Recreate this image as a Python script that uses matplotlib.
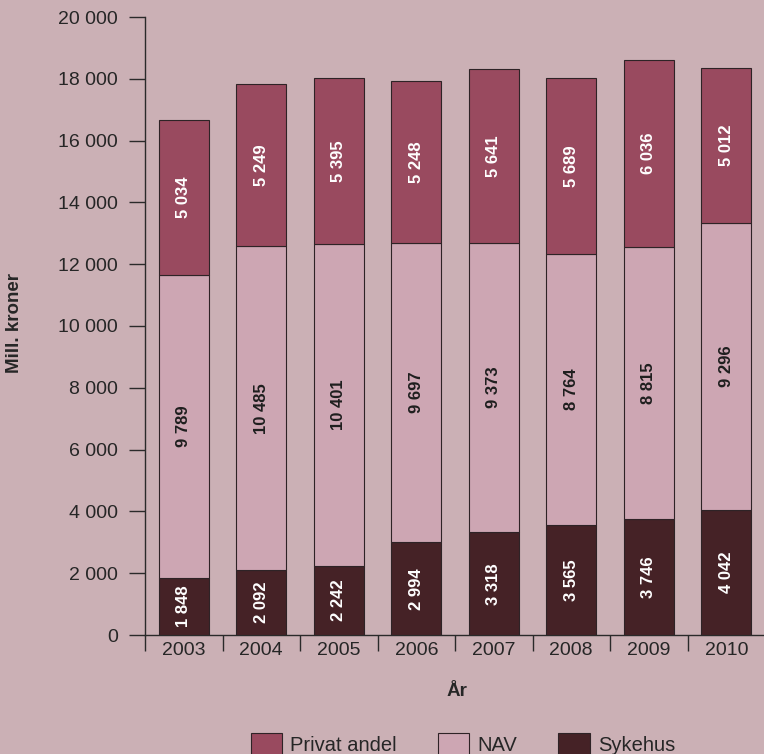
import matplotlib
matplotlib.use("Agg")
import matplotlib.pyplot as plt
from matplotlib.patches import Patch
import numpy as np

# Data (Mill. kroner)
years = ["2003", "2004", "2005", "2006", "2007", "2008", "2009", "2010"]
sykehus = [1848, 2092, 2242, 2994, 3318, 3565, 3746, 4042]
nav = [9789, 10485, 10401, 9697, 9373, 8764, 8815, 9296]
privat = [5034, 5249, 5395, 5248, 5641, 5689, 6036, 5012]

BG = "#cbb0b5"
C_PRIVAT = "#994a5f"
C_NAV = "#cda6b3"
C_SYKEHUS = "#452226"
EDGE = "#2e2326"
TXT = "#262626"

plt.rcParams["font.family"] = ["Liberation Sans", "DejaVu Sans"]


def fmt(v):
    return f"{int(v):,}".replace(",", " ")


fig = plt.figure(figsize=(7.64, 7.54), dpi=100, facecolor=BG)
ax = fig.add_axes([145 / 764, 1 - 635 / 754, 620 / 764, 618 / 754])
ax.set_facecolor(BG)

x = np.arange(len(years))
w = 0.64
sy = np.array(sykehus)
nv = np.array(nav)
pr = np.array(privat)

ax.bar(x, sy, w, color=C_SYKEHUS, edgecolor=EDGE, linewidth=0.8, zorder=3)
ax.bar(x, nv, w, bottom=sy, color=C_NAV, edgecolor=EDGE, linewidth=0.8, zorder=3)
ax.bar(x, pr, w, bottom=sy + nv, color=C_PRIVAT, edgecolor=EDGE, linewidth=0.8, zorder=3)

# value labels, rotated, centred in each segment (dark text on the light NAV part)
for i in range(len(years)):
    segs = ((0, sy[i], "white"), (sy[i], nv[i], "#1e1e1e"), (sy[i] + nv[i], pr[i], "white"))
    for bottom, val, col in segs:
        ax.text(x[i], bottom + val / 2, fmt(val), rotation=90, ha="center", va="center",
                color=col, fontsize=12, fontweight="bold", zorder=4)

ax.set_xlim(-0.5, len(years) - 0.5)
ax.set_ylim(0, 20000)
ax.set_yticks(np.arange(0, 20001, 2000))
ax.set_yticklabels([fmt(v) for v in np.arange(0, 20001, 2000)])
ax.set_xticks(x)
ax.set_xticklabels(years)
ax.set_xticks(np.arange(-0.5, len(years)), minor=True)

ax.tick_params(axis="y", length=11.5, width=1, color="#2a2a2a", pad=8,
               labelsize=14, labelcolor=TXT)
ax.tick_params(axis="x", which="major", length=0, pad=5, labelsize=14, labelcolor=TXT)
ax.tick_params(axis="x", which="minor", length=11.5, width=1, color="#2a2a2a")

for side in ("top", "right"):
    ax.spines[side].set_visible(False)
for side in ("left", "bottom"):
    ax.spines[side].set_color("#2a2a2a")
    ax.spines[side].set_linewidth(1)

fig.text(15 / 764, 1 - 323 / 754, "Mill. kroner", rotation=90, ha="center", va="center",
         fontsize=13.5, fontweight="bold", color=TXT)
fig.text(457 / 764, 1 - 692 / 754, "År", ha="center", va="center",
         fontsize=13.5, fontweight="bold", color=TXT)

handles = [Patch(facecolor=C_PRIVAT, edgecolor=EDGE, linewidth=0.8),
           Patch(facecolor=C_NAV, edgecolor=EDGE, linewidth=0.8),
           Patch(facecolor=C_SYKEHUS, edgecolor=EDGE, linewidth=0.8)]
fig.legend(handles, ["Privat andel", "NAV", "Sykehus"], loc="center",
           bbox_to_anchor=(463 / 764, 1 - 744 / 754), ncol=3, frameon=False,
           fontsize=14.5, handlelength=1.55, handleheight=1.3, handletextpad=0.4,
           columnspacing=2.05, borderpad=0, labelcolor=TXT)

fig.savefig("out.png", dpi=100, facecolor=BG)
